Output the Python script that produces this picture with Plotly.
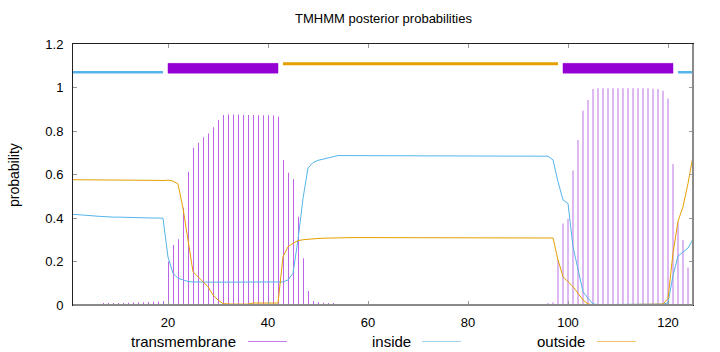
import plotly.graph_objects as go

# ---------------- data ----------------
residues = list(range(1, 126))

transmembrane = (
    [0.002, 0.002, 0.003, 0.003, 0.004, 0.004,
     0.005, 0.006, 0.007, 0.008, 0.009, 0.010, 0.011, 0.012, 0.013, 0.014, 0.015, 0.016, 0.018,
     0.200, 0.276, 0.302, 0.447, 0.613, 0.723, 0.746, 0.771, 0.789, 0.817, 0.851,
     0.874, 0.876, 0.876, 0.876, 0.874, 0.874, 0.873, 0.872, 0.872, 0.872, 0.871, 0.866,
     0.667, 0.608, 0.578, 0.406, 0.215, 0.064, 0.018, 0.013, 0.010, 0.008, 0.006]
    + [0.001] * 42
    + [0.005, 0.013, 0.207, 0.375, 0.396, 0.618, 0.759, 0.893, 0.943, 0.993,
       0.996, 0.996, 0.996, 0.996, 0.996, 0.996, 0.996, 0.996, 0.996, 0.996, 0.996,
       0.994, 0.993, 0.985, 0.950, 0.648, 0.381, 0.299, 0.172, 0.015]
)

inside = (
    [0.417, 0.416, 0.415, 0.413, 0.410, 0.408, 0.406, 0.405, 0.404, 0.404,
     0.403, 0.403, 0.402, 0.402, 0.401, 0.401, 0.400, 0.400, 0.399,
     0.220, 0.146, 0.123, 0.115, 0.108, 0.106]
    + [0.105] * 17
    + [0.106, 0.115, 0.146, 0.300, 0.490, 0.630, 0.655, 0.665, 0.670, 0.676, 0.682]
    + [0.687] * 42
    + [0.684, 0.667, 0.567, 0.483, 0.467, 0.268, 0.161, 0.061, 0.031, 0.005]
    + [0.002] * 13
    + [0.004, 0.010, 0.135, 0.225, 0.242, 0.262, 0.302]
)

outside = (
    [0.576, 0.576, 0.576, 0.576, 0.576, 0.576, 0.576, 0.576, 0.575, 0.575,
     0.575, 0.575, 0.575, 0.575, 0.575, 0.574, 0.574, 0.573, 0.572,
     0.574, 0.570, 0.556, 0.445, 0.299, 0.153, 0.130, 0.107, 0.084, 0.046, 0.023, 0.006]
    + [0.004] * 5
    + [0.009] * 6
    + [0.222, 0.268, 0.284, 0.296, 0.300, 0.303, 0.305, 0.306, 0.307, 0.308, 0.309]
    + [0.310] * 43
    + [0.308, 0.207, 0.130, 0.107, 0.084, 0.054, 0.023, 0.005]
    + [0.001] * 14
    + [0.004, 0.030, 0.238, 0.385, 0.452, 0.559, 0.685]
)

topo_labels = ["inside", "TMhelix", "outside", "TMhelix", "inside"]
topo_start = [1, 20, 43, 99, 122]
topo_end = [19, 42, 98, 121, 125]

legend_names = ["transmembrane", "inside", "outside"]
title_text = "TMHMM posterior probabilities"
y_title = "probability"

# ---------------- styling ----------------
C_TM = "#9400d3"
C_IN = "#56b4e9"
C_OUT = "#e69f00"
FONT = "Liberation Sans, Arial, sans-serif"

L, R, T, B = 73, 27, 44, 47
W, H = 720, 352
PW, PH = W - L - R, H - T - B


def px(x):
    return (x - L) / PW


def py(y):
    return (H - B - y) / PH


fig = go.Figure()

# impulses drawn as thin bars (two rendering groups to mimic the reference)
split = 75
groups = [(1, split, "#be62e8", 0.2, 0.0), (split, 126, "#ddb8f2", 0.4, -0.2)]
for lo, hi, col, wd, off in groups:
    xs = [r for r in residues if lo <= r < hi]
    ys = [v for r, v in zip(residues, transmembrane) if lo <= r < hi]
    fig.add_trace(go.Bar(x=xs, y=ys, width=wd, offset=off,
                         marker=dict(color=col, line=dict(width=0)),
                         showlegend=False, hoverinfo="skip"))

fig.add_trace(go.Scatter(x=residues, y=inside, mode="lines",
                         line=dict(color=C_IN, width=1), showlegend=False))
fig.add_trace(go.Scatter(x=residues, y=outside, mode="lines",
                         line=dict(color=C_OUT, width=1), showlegend=False))

# topology on top
for lab, s, e in zip(topo_labels, topo_start, topo_end):
    if lab == "TMhelix":
        fig.add_trace(go.Scatter(x=[s, e, e, s, s], y=[1.066, 1.066, 1.111, 1.111, 1.066],
                                 mode="lines", fill="toself", fillcolor=C_TM,
                                 line=dict(color=C_TM, width=0.5), showlegend=False))
    elif lab == "inside":
        fig.add_trace(go.Scatter(x=[s, e], y=[1.07, 1.07], mode="lines",
                                 line=dict(color=C_IN, width=2.5), showlegend=False))
    else:
        fig.add_trace(go.Scatter(x=[s, e], y=[1.109, 1.109], mode="lines",
                                 line=dict(color=C_OUT, width=3), showlegend=False))

shapes = [
    dict(type="line", xref="paper", yref="paper", x0=0, x1=1, y0=0, y1=0,
         line=dict(color="#8a8a8a", width=2)),
    dict(type="line", xref="paper", yref="paper", x0=1, x1=1, y0=0, y1=1,
         line=dict(color="#8a8a8a", width=2)),
]
annotations = [
    dict(text=title_text, xref="paper", yref="paper", x=0.5, y=py(18), showarrow=False,
         font=dict(family=FONT, size=13, color="#000"), xanchor="center", yanchor="middle"),
    dict(text=y_title, xref="paper", yref="paper", x=px(14), y=py(175), showarrow=False,
         textangle=-90, font=dict(family=FONT, size=14, color="#000"),
         xanchor="center", yanchor="middle"),
]

# manual gnuplot-style key
key_text_end = [238, 413, 587]
key_line = [(248, 287), (422, 461), (597, 636)]
key_cols = ["#c47de8", "#a3d5f1", "#f1c56e"]
for name, te, (l0, l1), col in zip(legend_names, key_text_end, key_line, key_cols):
    annotations.append(dict(text=name, xref="paper", yref="paper", x=px(te), y=py(341),
                            showarrow=False, xanchor="right", yanchor="middle",
                            font=dict(family=FONT, size=15, color="#000")))
    shapes.append(dict(type="line", xref="paper", yref="paper", x0=px(l0), x1=px(l1),
                       y0=py(341.5), y1=py(341.5), line=dict(color=col, width=1)))

fig.update_layout(
    width=W, height=H,
    margin=dict(l=L, r=R, t=T, b=B),
    paper_bgcolor="white", plot_bgcolor="white",
    showlegend=False, barmode="overlay",
    shapes=shapes, annotations=annotations,
    font=dict(family=FONT, size=13, color="#000"),
)
fig.update_xaxes(range=[1, 125], dtick=20, tick0=0, showgrid=False, zeroline=False,
                 showline=True, linecolor="#222", linewidth=1, mirror="ticks",
                 ticks="inside", ticklen=4, tickcolor="#999", tickwidth=1,
                 ticklabelstandoff=5,
                 tickfont=dict(family=FONT, size=13, color="#000"))
fig.update_yaxes(range=[0, 1.2], dtick=0.2, tick0=0, showgrid=False, zeroline=False,
                 showline=True, linecolor="#222", linewidth=1, mirror="ticks",
                 ticks="inside", ticklen=4, tickcolor="#999", tickwidth=1,
                 ticklabelstandoff=6,
                 tickfont=dict(family=FONT, size=13, color="#000"))

fig.write_html("out.html")
